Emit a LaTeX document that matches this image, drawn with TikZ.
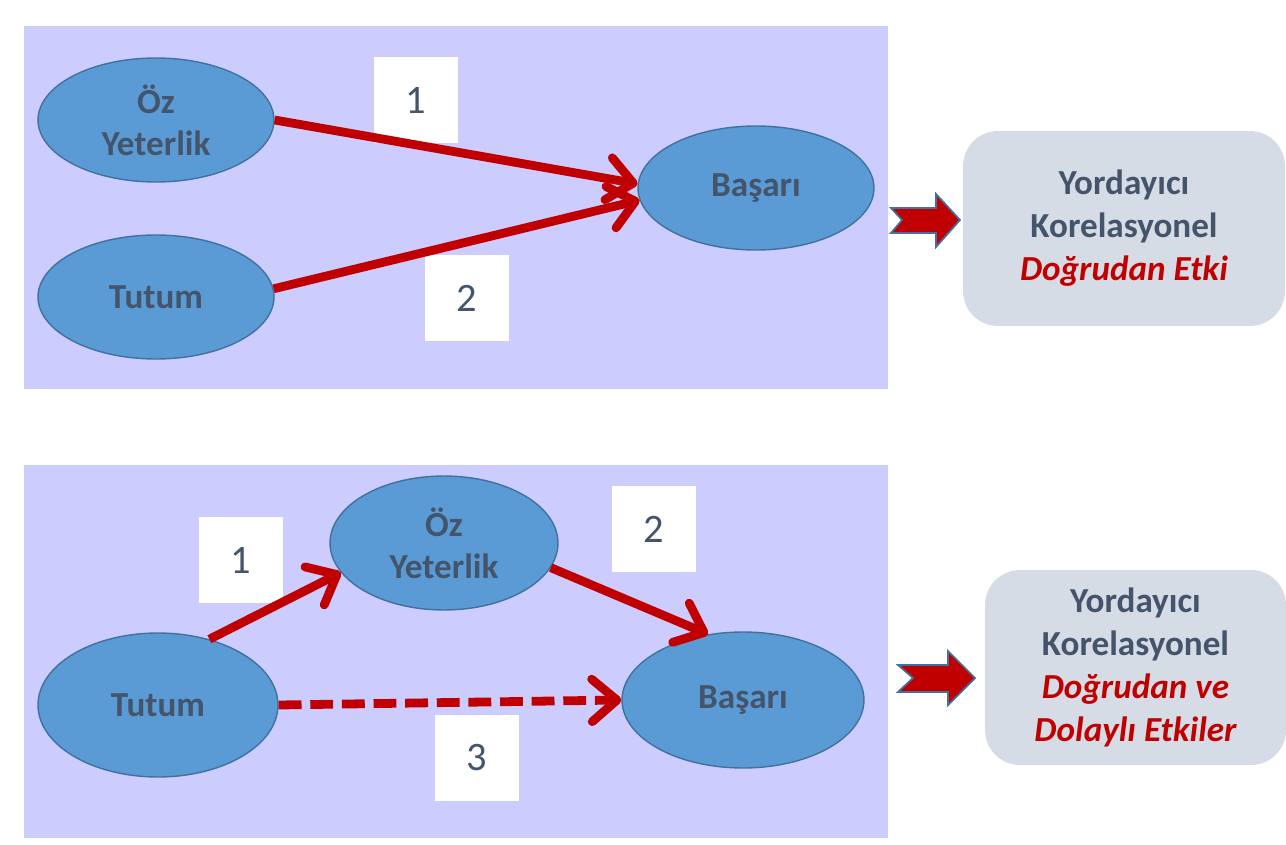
\documentclass[tikz,border=0pt]{standalone}
\usepackage{fontspec}
\setmainfont{Carlito}
\usetikzlibrary{shapes.geometric, arrows.meta}

\definecolor{panelbg}{HTML}{CCCCFF}
\definecolor{nodefill}{HTML}{5B9BD5}
\definecolor{nodeline}{HTML}{41719C}
\definecolor{darktext}{HTML}{44546A}
\definecolor{darkred}{HTML}{C00000}
\definecolor{boxgray}{HTML}{D6DCE5}

\begin{document}
\begin{tikzpicture}[x=0.02cm, y=-0.02cm,
    var/.style={draw=nodeline, fill=nodefill, ellipse, line width=0.8pt, align=center, text=darktext,
        font=\fontsize{20}{24}\selectfont\bfseries, inner sep=0pt},
    numbox/.style={fill=white, minimum width=1.7cm, minimum height=1.74cm, inner sep=0pt,
        text=darktext, font=\fontsize{23}{27}\selectfont},
    resultbox/.style={fill=boxgray, rounded corners=0.7cm, minimum height=3.9cm, align=center,
        text=darktext, font=\fontsize{20}{24.5}\selectfont\bfseries, inner sep=0pt},
    path/.style={draw=darkred, line width=5pt,
        -{Straight Barb[length=5mm, width=8.5mm, line cap=round, line join=round]}},
    fatarrow/.style={draw=nodeline, fill=darkred, line width=1pt, line join=miter}]
    \useasboundingbox (0,0) rectangle (1286,845);

    % model 1
    \fill[panelbg] (24,26) rectangle (888,389);
    \node (oz1) [var, minimum width=4.72cm, minimum height=2.48cm] at (156,120) {Öz\\Yeterlik};
    \node (tutum1) [var, minimum width=4.72cm, minimum height=2.48cm] at (156,297) {Tutum};
    \node (basari1) [var, minimum width=4.72cm, minimum height=2.48cm] at (756,188) {Başarı};
    \node (n11) [numbox] at (416,100) {1};
    \node (n12) [numbox] at (467,298) {2};

    \draw[path] (oz1.east) -- (basari1.178);
    \draw[path] (tutum1.4) -- (basari1.186);

    \draw[fatarrow] (891,208) -- (936,208) -- (936,194) -- (960,220) -- (936,247) -- (936,233)
        -- (891,233) -- (902,220) -- cycle;
    \node (result1) [resultbox, minimum width=6.44cm] at (1124,228.5)
        {Yordayıcı\\Korelasyonel\\\textcolor{darkred}{\itshape Doğrudan Etki}};

    % model 2
    \fill[panelbg] (24,465) rectangle (888,838);
    \node (oz2) [var, minimum width=4.56cm, minimum height=2.68cm] at (444,543) {Öz\\Yeterlik};
    \node (tutum2) [var, minimum width=4.8cm, minimum height=2.88cm] at (158,705) {Tutum};
    \node (basari2) [var, minimum width=4.84cm, minimum height=2.72cm] at (743,700) {Başarı};
    \node (n21) [numbox] at (241,560) {1};
    \node (n22) [numbox] at (654,529) {2};
    \node (n23) [numbox] at (477,758) {3};

    \draw[path] (tutum2.52) -- (oz2.196);
    \draw[path] (oz2.-13) -- (basari2.118);
    \draw[path, dash pattern=on 13pt off 5pt] (tutum2.east) -- (basari2.west);

    \draw[fatarrow] (898,665) -- (948,665) -- (948,651) -- (975,678) -- (948,705) -- (948,692)
        -- (898,692) -- (913,678) -- cycle;
    \node (result2) [resultbox, minimum width=6.02cm] at (1135.5,667.5)
        {Yordayıcı\\Korelasyonel\\\textcolor{darkred}{\itshape Doğrudan ve}\\\textcolor{darkred}{\itshape Dolaylı Etkiler}};
\end{tikzpicture}
\end{document}
